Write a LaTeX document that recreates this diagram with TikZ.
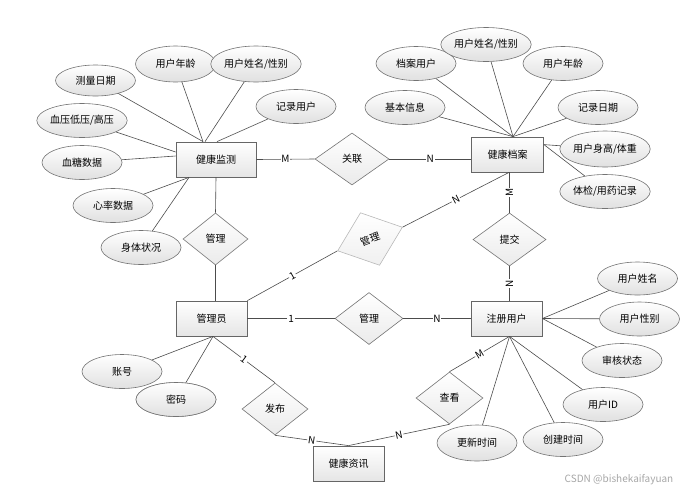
\documentclass[tikz,border=0pt]{standalone}
\usepackage{fontspec}
\setmainfont{Noto Sans CJK SC}
\usetikzlibrary{shapes.geometric,calc}
\tikzset{
  txt/.style={font=\fontsize{10}{12}\selectfont, text=black},
  ent/.style={rectangle, draw=black!60, line width=0.8pt, top color=white, bottom color=black!10,
    minimum height=35pt, inner sep=0pt, txt},
  attr/.style={ellipse, draw=black!55, line width=0.6pt, top color=white, bottom color=black!12,
    minimum width=80pt, minimum height=34pt, inner sep=0pt, txt},
  rel/.style={diamond, draw=black!55, line width=0.6pt, top color=white, bottom color=black!8,
    minimum width=66pt, minimum height=52pt, inner sep=0pt, txt},
  relg/.style={rel, draw=black!28, bottom color=black!6},
  conn/.style={draw=black!70, line width=0.6pt},
  lab/.style={fill=white, inner sep=0.8pt, txt},
}
\begin{document}
\begin{tikzpicture}[x=1pt,y=-1pt]
\useasboundingbox (0,0) rectangle (692,493);
% entities
\node[ent, minimum width=80pt] (hm) at (216,159.5) {健康监测};
\node[ent, minimum width=72pt] (da) at (507.5,154.5) {健康档案};
\node[ent, minimum width=71pt] (gl) at (211.5,318.5) {管理员};
\node[ent, minimum width=71pt] (zc) at (506.5,318.5) {注册用户};
\node[ent, minimum width=71pt] (zx) at (348.5,463.5) {健康资讯};
% relationships
\node[rel, minimum width=74pt] (r1) at (352,159) {关联};
\node[rel, minimum width=65pt] (r2) at (215.5,239) {管理};
\node[relg, minimum width=69pt, minimum height=56pt, rotate=20] (r3) at (370,239) {管理};
\node[rel, minimum width=73pt, minimum height=53pt] (r4) at (509.5,239.5) {提交};
\node[rel, minimum width=68pt] (r5) at (369,318.5) {管理};
\node[rel, minimum width=66pt] (r6) at (275,409) {发布};
\node[rel, minimum width=67pt] (r7) at (449.5,398) {查看};
% attributes of 健康监测
\node[attr, minimum height=31pt] (a1) at (95.5,80.5) {测量日期};
\node[attr, minimum height=36pt] (a2) at (175.5,64) {用户年龄};
\node[attr, minimum width=82pt, minimum height=36pt] (a3) at (256,64) {用户姓名/性别};
\node[attr] (a4) at (296,106.5) {记录用户};
\node[attr] (a5) at (82,120.5) {血压低压/高压};
\node[attr] (a6) at (82,162.5) {血糖数据};
\node[attr] (a7) at (113,205.5) {心率数据};
\node[attr] (a8) at (141,247.5) {身体状况};
% attributes of 健康档案
\node[attr] (b1) at (416,63.5) {档案用户};
\node[attr] (b2) at (486,44.5) {用户姓名/性别};
\node[attr] (b3) at (563,63.5) {用户年龄};
\node[attr] (b4) at (405,107.5) {基本信息};
\node[attr] (b5) at (598,107.5) {记录日期};
\node[attr, minimum height=36pt] (b6) at (605,149) {用户身高/体重};
\node[attr] (b7) at (605,191.5) {体检/用药记录};
% attributes of 注册用户
\node[attr, minimum height=33pt] (c1) at (637.5,278.5) {用户姓名};
\node[attr] (c2) at (639.5,319) {用户性别};
\node[attr] (c3) at (622,360.5) {审核状态};
\node[attr] (c4) at (603,404.5) {用户ID};
\node[attr] (c5) at (563,439.5) {创建时间};
\node[attr, minimum height=36pt] (c6) at (477,443) {更新时间};
% attributes of 管理员
\node[attr] (d1) at (122,371.5) {账号};
\node[attr] (d2) at (176,399.5) {密码};
% attribute connectors
\draw[conn] (a1) -- ([xshift=-13pt]hm.north);
\draw[conn] (a2) -- ([xshift=-13pt]hm.north);
\draw[conn] (a3) -- ([xshift=-11pt]hm.north);
\draw[conn] (a4) -- ([xshift=1pt]hm.north);
\draw[conn] (a5) -- ([yshift=7.5pt]hm.west);
\draw[conn] (a6) -- ([yshift=3.5pt]hm.west);
\draw[conn] (a7) -- ([xshift=-27pt]hm.south);
\draw[conn] (a8) -- ([xshift=-27pt]hm.south);
\draw[conn] (b1) -- ([xshift=5.5pt]da.north);
\draw[conn] (b2) -- ([xshift=5.5pt]da.north);
\draw[conn] (b3) -- ([xshift=5.5pt]da.north);
\draw[conn] (b4) -- ([xshift=5.5pt]da.north);
\draw[conn] (b5) -- ([xshift=5.5pt]da.north);
\draw[conn] (b6) -- ([yshift=-8pt]da.north east);
\draw[conn] (b7) -- ([yshift=-8pt]da.north east);
\draw[conn] (c1) -- (zc.east);
\draw[conn] (c2) -- (zc.east);
\draw[conn] (c3) -- (zc.east);
\draw[conn] (c4) -- ([xshift=3pt]zc.south);
\draw[conn] (c5) -- ([xshift=3pt]zc.south);
\draw[conn] (c6) -- ([xshift=3pt]zc.south);
\draw[conn] (d1) -- ([xshift=1.5pt]gl.south);
\draw[conn] (d2) -- ([xshift=1.5pt]gl.south);
% relationship connectors
\draw[conn] (hm.east) -- node[lab]{M} (r1.west);
\draw[conn] (r1.east) -- node[lab]{N} (r1.east -| da.west);
\draw[conn] (hm.south) -- (r2.north);
\draw[conn] (r2.south) -- (r2.south |- gl.north);
\draw[conn] (gl.north east) -- node[lab, sloped]{1} (r3.west);
\draw[conn] (r3.east) -- node[lab, sloped]{N} ([xshift=1.5pt]da.south);
\draw[conn] (r4.north |- da.south) -- node[lab, rotate=90]{M} (r4.north);
\draw[conn] (r4.south) -- node[lab, rotate=90]{N} (r4.south |- zc.north);
\draw[conn] (gl.east) -- node[lab]{1} (r5.west);
\draw[conn] (r5.east) -- node[lab]{N} (zc.west);
\draw[conn] ([xshift=1.5pt]gl.south) -- node[lab, sloped]{1} (r6.north);
\draw[conn] (r6.south) -- node[lab, sloped]{N} (zx.north);
\draw[conn] (r7.south) -- node[lab, sloped]{N} (zx.north);
\draw[conn] (r7.north) -- node[lab, sloped]{M} ([xshift=3pt]zc.south);
% redraw overlapping ellipse on top of its neighbour
\node[attr] at (d2) {密码};
% watermark
\node[text=black!35, font=\fontsize{10}{12}\selectfont, inner sep=0pt] (wm) at (619,480) {CSDN @bishekaifayuan};
\end{tikzpicture}
\end{document}
